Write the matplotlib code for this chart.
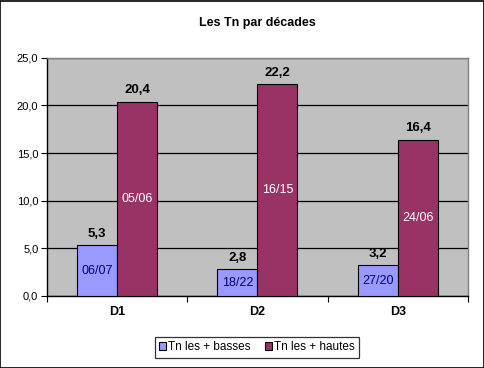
import matplotlib
matplotlib.use("Agg")
import matplotlib.pyplot as plt
import numpy as np
from matplotlib.patches import Rectangle

# data
categories = ["D1", "D2", "D3"]
tn_basses = [5.3, 2.8, 3.2]
tn_hautes = [20.4, 22.2, 16.4]
dates_basses = ["06/07", "18/22", "27/20"]
dates_hautes = ["05/06", "16/15", "24/06"]

plt.rcParams['font.family'] = ['Liberation Sans', 'DejaVu Sans']

fig = plt.figure(figsize=(4.85, 3.68), dpi=100)
fig.patch.set_facecolor('white')
fig.patches.append(Rectangle((0.001, 0.001), 0.997, 0.996, transform=fig.transFigure,
                             fill=False, edgecolor='black', linewidth=1.2))

ax = fig.add_axes([0.0963, 0.1957, 0.8687, 0.6473])
ax.set_facecolor('#C0C0C0')

x = np.arange(len(categories))
w = 0.285
b1 = ax.bar(x - w / 2, tn_basses, w, color='#9999FF', edgecolor='black', linewidth=0.8,
            label='Tn les + basses', zorder=3)
b2 = ax.bar(x + w / 2, tn_hautes, w, color='#993366', edgecolor='black', linewidth=0.8,
            label='Tn les + hautes', zorder=3)

for rect, v, d in zip(b1, tn_basses, dates_basses):
    cx = rect.get_x() + rect.get_width() / 2
    ax.text(cx, v + 0.6, ('%.1f' % v).replace('.', ','), ha='center', va='bottom',
            fontsize=9.5, fontweight='bold', zorder=4)
    ax.text(cx, v / 2, d, ha='center', va='center', fontsize=9, color='#000080', zorder=4)
for rect, v, d in zip(b2, tn_hautes, dates_hautes):
    cx = rect.get_x() + rect.get_width() / 2
    ax.text(cx, v + 0.6, ('%.1f' % v).replace('.', ','), ha='center', va='bottom',
            fontsize=9.5, fontweight='bold', zorder=4)
    ax.text(cx, v / 2, d, ha='center', va='center', fontsize=9, color='white', zorder=4)

ax.set_xlim(-0.5, 2.5)
ax.set_ylim(0, 25)
yt = np.arange(0, 26, 5)
ax.set_yticks(yt)
ax.set_yticklabels([('%.1f' % t).replace('.', ',') for t in yt], fontsize=8)
ax.yaxis.grid(True, color='black', linewidth=0.9, zorder=1)
ax.set_axisbelow(True)

ax.set_xticks([-0.5, 0.5, 1.5, 2.5])
ax.set_xticklabels([])
ax.set_xticks(x, minor=True)
ax.set_xticklabels(categories, minor=True, fontsize=9, fontweight='bold')
ax.tick_params(axis='x', which='minor', length=0, pad=7)
ax.tick_params(axis='x', which='major', length=4, direction='out', color='black')
ax.tick_params(axis='y', length=4, direction='out', pad=2)

for s in ['top', 'right']:
    ax.spines[s].set_color('#808080')
    ax.spines[s].set_linewidth(1.0)
for s in ['left', 'bottom']:
    ax.spines[s].set_color('black')
    ax.spines[s].set_linewidth(1.0)

fig.text(0.53, 0.9375, "Les Tn par décades", ha='center', va='center',
         fontsize=9, fontweight='bold')

leg = fig.legend(loc='center', bbox_to_anchor=(0.53, 0.056), ncol=2, fontsize=8.5,
                 frameon=True, fancybox=False, handlelength=0.6, handleheight=0.6,
                 handletextpad=0.2, columnspacing=1.2, borderpad=0.35)
leg.get_frame().set_edgecolor('black')
leg.get_frame().set_linewidth(0.9)

fig.savefig('out.png', dpi=100)
